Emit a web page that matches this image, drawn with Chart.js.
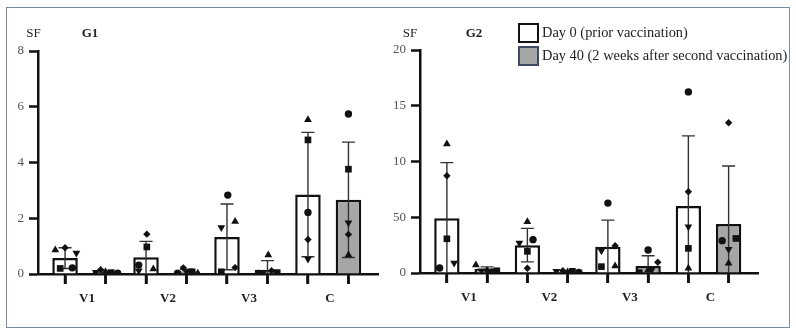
<!DOCTYPE html>
<html>
<head>
<meta charset="utf-8">
<script src="https://cdn.jsdelivr.net/npm/chart.js@4.4.1/dist/chart.umd.min.js"></script>
<style>
  body { margin: 0; background: #fff; width: 796px; height: 334px; overflow: hidden; font-family: 'Liberation Serif', serif; }
  #frame { position: absolute; left: 6px; top: 7px; width: 782px; height: 319px; border: 1px solid #7b8aa6; }
  #g1 { position: absolute; left: 0; top: 0; }
  #g2 { position: absolute; left: 382px; top: 0; }
  #legend { position: absolute; left: 518px; top: 21px; font-size: 14.4px; color: #222; }
  .item { display: flex; align-items: center; height: 23px; }
  .swatch { box-sizing: border-box; width: 21px; height: 20px; border: 2px solid #111; margin-right: 3px; }
</style>
</head>
<body>
<div id="frame"></div>
<canvas id="g1" width="398" height="334"></canvas>
<canvas id="g2" width="414" height="334"></canvas>
<div id="legend"></div>
<script>
var groups = ['V1', 'V2', 'V3', 'C'];
var seriesNames = ['Day 0 (prior vaccination)', 'Day 40 (2 weeks after second vaccination)'];
var seriesFill = ['#ffffff', '#a6a6a6'];
var legendEdge = ['#111111', '#3d4c63'];

// G1: bar heights and SD, one value per group
var g1Day0 = [0.57, 0.6, 1.33, 2.85];
var g1Day0Sd = [0.37, 0.57, 1.18, 2.23];
var g1Day40 = [0.07, 0.09, 0.15, 2.66];
var g1Day40Sd = [0.05, 0.08, 0.33, 2.07];
var g1YTicks = ['0', '2', '4', '6', '8'];

// G1 individual points, order: V1 d0, V1 d40, V2 d0, V2 d40, V3 d0, V3 d40, C d0, C d40
var g1Circle = [0.22, 0.03, 0.32, 0.03, 2.83, 0.02, 2.21, 5.74];
var g1Square = [0.2, 0.05, 0.97, 0.08, 0.08, 0.05, 4.81, 3.76];
var g1Triangle = [0.86, 0.08, 0.18, 0.03, 1.88, 0.68, 5.53, 0.68];
var g1Down = [0.75, 0.06, 0.12, 0.08, 1.67, 0.06, 0.54, 1.84];
var g1Diamond = [0.94, 0.15, 1.43, 0.22, 0.23, 0.12, 1.24, 1.42];
// horizontal scatter of the points around their bar
var g1CircleDx = [0.09, 0.15, -0.09, -0.11, 0.01, -0.11, 0, 0];
var g1SquareDx = [-0.06, 0.07, 0.01, 0.07, -0.07, 0.12, 0, 0];
var g1TriangleDx = [-0.12, 0, 0.09, 0.14, 0.1, 0.01, 0, 0];
var g1DownDx = [0.14, -0.12, -0.09, 0, -0.07, -0.05, 0, 0];
var g1DiamondDx = [0, -0.06, 0.01, -0.04, 0.1, 0.05, 0, 0];

// G2
var g2Day0 = [4.9, 2.5, 2.36, 6.0];
var g2Day0Sd = [5.0, 1.5, 2.38, 6.3];
var g2Day40 = [0.35, 0.12, 0.63, 4.4];
var g2Day40Sd = [0.2, 0.06, 0.92, 5.2];
var g2YTicks = ['0', '50', '10', '15', '20'];

var g2Circle = [0.45, 0.1, 2.99, 0.05, 6.27, 2.06, 16.24, 2.9];
var g2Square = [3.07, 0.2, 1.94, 0.15, 0.57, 0.03, 2.21, 3.1];
var g2Triangle = [11.58, 0.72, 4.6, 0.1, 0.63, 0.27, 0.42, 0.87];
var g2Down = [0.9, 0.2, 2.69, 0.15, 2.0, 0.35, 4.15, 2.12];
var g2Diamond = [8.72, 0.25, 0.42, 0.2, 2.45, 0.96, 7.29, 13.48];
var g2CircleDx = [-0.09, 0.06, 0.07, 0.14, 0, 0, 0, -0.08];
var g2SquareDx = [0, 0.12, 0, 0.06, -0.08, -0.11, 0, 0.09];
var g2TriangleDx = [0, -0.14, 0, 0, 0.09, 0, 0, 0];
var g2DownDx = [0.09, -0.07, -0.1, -0.14, -0.08, 0.05, 0, 0];
var g2DiamondDx = [0, 0, 0, -0.06, 0.09, 0.12, 0, 0];

var serif = 'Liberation Serif';
var ink = '#111111';

// bar k sits at 1, 1.5, 2, ... (day 0 / day 40 pairs per group)
function barX(k) { return 1 + k * 0.5; }

var errorBars = {
    id: 'errorBars',
    afterDatasetDraw: function (chart, args) {
        var meta = args.meta;
        if (meta.type !== 'bar') return;
        var ds = chart.data.datasets[args.index];
        var y = chart.scales.y;
        var area = chart.chartArea;
        var ctx = chart.ctx;
        ctx.save();
        ctx.strokeStyle = '#333';
        ctx.lineWidth = 1.4;
        meta.data.forEach(function (bar, j) {
            var m = ds.data[j].y, sd = ds.errors[j];
            var top = y.getPixelForValue(m + sd);
            var bot = Math.min(y.getPixelForValue(m - sd), area.bottom);
            ctx.beginPath();
            ctx.moveTo(bar.x, top);
            ctx.lineTo(bar.x, bot);
            ctx.moveTo(bar.x - 6.5, top);
            ctx.lineTo(bar.x + 6.5, top);
            if (bot < area.bottom - 2) {
                ctx.moveTo(bar.x - 6.5, bot);
                ctx.lineTo(bar.x + 6.5, bot);
            }
            ctx.stroke();
        });
        ctx.restore();
    }
};

// short marks under the x axis at every bar
var xTickMarks = {
    id: 'xTickMarks',
    afterDraw: function (chart) {
        var x = chart.scales.x;
        var ctx = chart.ctx;
        var base = chart.chartArea.bottom;
        ctx.save();
        ctx.strokeStyle = ink;
        ctx.lineWidth = 2.5;
        ctx.beginPath();
        x.ticks.forEach(function (t, i) {
            var px = x.getPixelForTick(i);
            ctx.moveTo(px, base);
            ctx.lineTo(px, base + 10);
        });
        ctx.stroke();
        ctx.restore();
    }
};

var panelText = {
    id: 'panelText',
    afterDraw: function (chart, args, opts) {
        var ctx = chart.ctx;
        var left = chart.chartArea.left;
        ctx.save();
        ctx.fillStyle = '#222';
        ctx.textAlign = 'center';
        ctx.textBaseline = 'middle';
        ctx.font = '13px "' + serif + '"';
        ctx.fillText('SF', left + opts.sfDx, 34);
        ctx.font = 'bold 13px "' + serif + '"';
        ctx.fillText(opts.title, left + opts.titleDx, 34);
        ctx.restore();
    }
};

function buildChart(id, p) {
    var shapes = [
        { style: 'circle', r: 3.7, rot: 0, vals: p.circle, dx: p.circleDx },
        { style: 'rect', r: 4.7, rot: 0, vals: p.square, dx: p.squareDx },
        { style: 'triangle', r: 4.5, rot: 0, vals: p.triangle, dx: p.triangleDx },
        { style: 'triangle', r: 4.5, rot: 180, vals: p.down, dx: p.downDx },
        { style: 'rectRot', r: 3.7, rot: 0, vals: p.diamond, dx: p.diamondDx }
    ];
    var datasets = [
        { type: 'bar', label: seriesNames[0], grouped: false,
          data: p.day0.map(function (v, i) { return { x: barX(2 * i), y: v }; }),
          errors: p.day0Sd, backgroundColor: seriesFill[0], borderColor: ink, borderWidth: 2.5, order: 2 },
        { type: 'bar', label: seriesNames[1], grouped: false,
          data: p.day40.map(function (v, i) { return { x: barX(2 * i + 1), y: v }; }),
          errors: p.day40Sd, backgroundColor: seriesFill[1], borderColor: ink, borderWidth: 2.5, order: 2 }
    ];
    shapes.forEach(function (s) {
        datasets.push({
            type: 'scatter',
            data: s.vals.map(function (v, k) { return { x: barX(k) + s.dx[k], y: v }; }),
            pointStyle: s.style,
            pointRotation: s.rot,
            pointRadius: s.r,
            pointBackgroundColor: ink,
            pointBorderColor: ink,
            pointBorderWidth: 0,
            order: 1
        });
    });

    return new Chart(document.getElementById(id), {
        type: 'bar',
        data: { datasets: datasets },
        options: {
            responsive: false,
            animation: false,
            categoryPercentage: 1.0,
            barPercentage: 0.63,
            layout: { padding: { top: p.top, right: p.right, bottom: p.bottom, left: 0 } },
            plugins: {
                legend: { display: false },
                tooltip: { enabled: false },
                panelText: { title: p.title, sfDx: p.sfDx, titleDx: p.titleDx }
            },
            scales: {
                x: {
                    type: 'linear', position: 'bottom', min: 0.666, max: 4.865,
                    offset: false, bounds: 'data',
                    afterBuildTicks: function (s) {
                        s.ticks = [0, 1, 2, 3, 4, 5, 6, 7].map(function (k) { return { value: barX(k) }; });
                    },
                    grid: { offset: false, drawOnChartArea: false, tickLength: 10, tickWidth: 2.5, tickColor: ink },
                    border: { color: ink, width: 2.5 },
                    ticks: {
                        autoSkip: false, maxRotation: 0, padding: 7, labelOffset: 22, color: '#222',
                        font: { family: serif, size: 13, weight: 'bold' },
                        callback: function (v, i) { return i % 2 ? '' : groups[i / 2]; }
                    },
                    afterFit: function (s) { s.height = 40; }
                },
                y: {
                    min: 0, max: p.yMax,
                    grid: { drawOnChartArea: false, tickLength: 9, tickWidth: 2.5, tickColor: ink },
                    border: { color: ink, width: 2.5 },
                    ticks: {
                        stepSize: p.yStep, padding: 5, color: '#555',
                        font: { family: serif, size: 13 },
                        callback: function (v, i) { return p.yTicks[i]; }
                    },
                    afterFit: function (s) { s.width = 38; }
                }
            }
        },
        plugins: [errorBars, xTickMarks, panelText]
    });
}

buildChart('g1', {
    title: 'G1', sfDx: -4.5, titleDx: 52, top: 51, right: 20, bottom: 20,
    yMax: 8, yStep: 2, yTicks: g1YTicks,
    day0: g1Day0, day0Sd: g1Day0Sd, day40: g1Day40, day40Sd: g1Day40Sd,
    circle: g1Circle, square: g1Square, triangle: g1Triangle, down: g1Down, diamond: g1Diamond,
    circleDx: g1CircleDx, squareDx: g1SquareDx, triangleDx: g1TriangleDx, downDx: g1DownDx, diamondDx: g1DiamondDx
});

var chart2 = buildChart('g2', {
    title: 'G2', sfDx: -10, titleDx: 54, top: 50, right: 38, bottom: 21,
    yMax: 20, yStep: 5, yTicks: g2YTicks,
    day0: g2Day0, day0Sd: g2Day0Sd, day40: g2Day40, day40Sd: g2Day40Sd,
    circle: g2Circle, square: g2Square, triangle: g2Triangle, down: g2Down, diamond: g2Diamond,
    circleDx: g2CircleDx, squareDx: g2SquareDx, triangleDx: g2TriangleDx, downDx: g2DownDx, diamondDx: g2DiamondDx
});

// legend built from the bar datasets of the second chart
var legendEl = document.getElementById('legend');
chart2.data.datasets.filter(function (d) { return d.type === 'bar'; }).forEach(function (d, i) {
    var row = document.createElement('div');
    row.className = 'item';
    var sw = document.createElement('div');
    sw.className = 'swatch';
    sw.style.background = d.backgroundColor;
    sw.style.borderColor = legendEdge[i];
    var txt = document.createElement('span');
    txt.textContent = d.label;
    row.appendChild(sw);
    row.appendChild(txt);
    legendEl.appendChild(row);
});
</script>
</body>
</html>
